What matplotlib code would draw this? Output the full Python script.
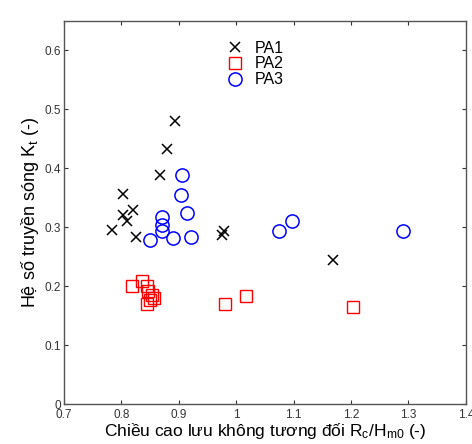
import numpy as np
import matplotlib
matplotlib.use("Agg")
import matplotlib.pyplot as plt

plt.rcParams['font.family'] = ['Liberation Sans', 'DejaVu Sans']
plt.rcParams['mathtext.default'] = 'regular'

# Du lieu doc tu hinh
pa1_x = [0.893, 0.879, 0.868, 0.802, 0.821, 0.803, 0.809, 0.783, 0.825, 0.975, 0.978, 1.168]
pa1_y = [0.480, 0.432, 0.389, 0.357, 0.330, 0.321, 0.310, 0.295, 0.284, 0.287, 0.294, 0.244]

pa2_x = [0.818, 0.836, 0.844, 0.847, 0.853, 0.850, 0.844, 0.856, 0.980, 1.017, 1.204]
pa2_y = [0.201, 0.208, 0.200, 0.191, 0.185, 0.177, 0.169, 0.180, 0.170, 0.184, 0.164]

pa3_x = [0.906, 0.904, 0.914, 0.870, 0.870, 0.870, 0.850, 0.889, 0.921, 1.075, 1.098, 1.290]
pa3_y = [0.388, 0.355, 0.324, 0.318, 0.304, 0.294, 0.279, 0.282, 0.284, 0.293, 0.310, 0.294]

xticks = [0.7, 0.8, 0.9, 1.0, 1.1, 1.2, 1.3, 1.4]
xtick_labels = ['0.7', '0.8', '0.9', '1', '1.1', '1.2', '1.3', '1.4']
yticks = [0, 0.1, 0.2, 0.3, 0.4, 0.5, 0.6]
ytick_labels = ['0', '0.1', '0.2', '0.3', '0.4', '0.5', '0.6']

fig = plt.figure(figsize=(4.72, 4.44), dpi=100)
ax = fig.add_axes([0.1356, 0.090, 0.8514, 0.863])

ax.plot(pa1_x, pa1_y, 'x', color='k', markersize=7, markeredgewidth=1.1, label='PA1')
ax.plot(pa2_x, pa2_y, 's', color='r', markerfacecolor='none', markersize=8, markeredgewidth=1.0, label='PA2')
ax.plot(pa3_x, pa3_y, 'o', color='b', markerfacecolor='none', markersize=9.5, markeredgewidth=1.1, label='PA3')

ax.set_xlim(0.7, 1.4)
ax.set_ylim(0, 0.65)
ax.set_xticks(xticks)
ax.set_xticklabels(xtick_labels)
ax.set_yticks(yticks)
ax.set_yticklabels(ytick_labels)
ax.tick_params(direction='in', top=True, right=True, length=3, labelsize=8.5, colors='#333333')
ax.tick_params(axis='x', pad=3.5)
ax.tick_params(axis='y', pad=2)
for s in ax.spines.values():
    s.set_color('#555555')
    s.set_linewidth(1.0)

ax.set_xlabel('Chiều cao lưu không tương đối R$_c$/H$_{m0}$ (-)', fontsize=12.5, labelpad=0)
ax.set_ylabel('Hệ số truyền sóng K$_t$ (-)', fontsize=13, labelpad=3)

ax.legend(loc='upper center', bbox_to_anchor=(0.47, 0.965), frameon=False, fontsize=11.5,
          handletextpad=0.4, labelspacing=0.05, borderaxespad=0, handlelength=1.6)

fig.savefig('out.png', dpi=100)
